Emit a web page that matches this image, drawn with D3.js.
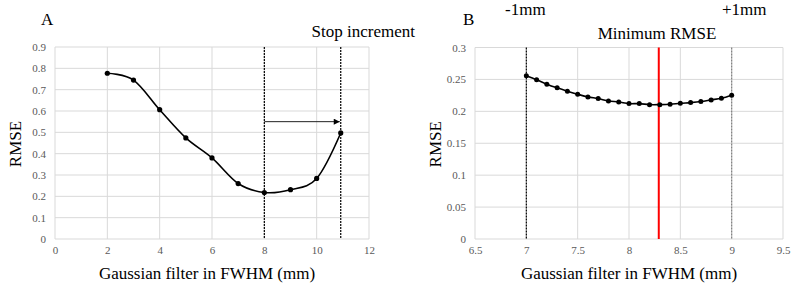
<!DOCTYPE html>
<html>
<head>
<meta charset="utf-8">
<script src="https://cdnjs.cloudflare.com/ajax/libs/d3/7.8.5/d3.min.js"></script>
<style>
  body { margin: 0; background: #fff; }
  text { font-family: "Liberation Serif", "Times New Roman", serif; }
</style>
</head>
<body>
<div id="chart"></div>
<script>
// panel A: coarse search
var aFwhm = [2, 3, 4, 5, 6, 7, 8, 9, 10, 10.92];
var aRmse = [0.777, 0.745, 0.606, 0.474, 0.38, 0.26, 0.218, 0.231, 0.284, 0.497];
var aXTicks = [0, 2, 4, 6, 8, 10, 12];
var aYTicks = [0, 0.1, 0.2, 0.3, 0.4, 0.5, 0.6, 0.7, 0.8, 0.9];
var aDashed = [8, 10.92];
var aArrow = {from: 8, to: 10.92, y: 0.55};

// panel B: fine search around the minimum
var bFwhm = [7.0, 7.1, 7.2, 7.3, 7.4, 7.5, 7.6, 7.7, 7.8, 7.9, 8.0,
             8.1, 8.2, 8.3, 8.4, 8.5, 8.6, 8.7, 8.8, 8.9, 9.0];
var bRmse = [0.2558, 0.2495, 0.2426, 0.2368, 0.2316, 0.2268, 0.2226, 0.2200, 0.2163, 0.2147, 0.2121,
             0.2121, 0.2105, 0.2105, 0.2110, 0.2126, 0.2137, 0.2153, 0.2179, 0.2205, 0.2253];
var bXTicks = [6.5, 7, 7.5, 8, 8.5, 9, 9.5];
var bYTicks = [0, 0.05, 0.1, 0.15, 0.2, 0.25, 0.3];
var bMinimum = 8.29;
var bBounds = [7, 9];

var svg = d3.select("#chart").append("svg")
    .attr("width", 799)
    .attr("height", 288);

svg.append("defs").append("marker")
    .attr("id", "arrowhead")
    .attr("viewBox", "0 0 10 10")
    .attr("refX", 10).attr("refY", 5)
    .attr("markerWidth", 7).attr("markerHeight", 6)
    .attr("markerUnits", "userSpaceOnUse")
    .attr("orient", "auto")
    .append("path")
    .attr("d", "M0,0L10,5L0,10Z")
    .attr("fill", "#000");

function drawPanel(opt) {
    var x = d3.scaleLinear().domain(opt.xDomain).range([opt.left, opt.right]);
    var y = d3.scaleLinear().domain(opt.yDomain).range([opt.bottom, opt.top]);
    var g = svg.append("g");

    // gridlines
    g.selectAll(".hgrid").data(opt.yTicks).enter().append("line")
        .attr("x1", opt.left).attr("x2", opt.right)
        .attr("y1", d => y(d)).attr("y2", d => y(d))
        .attr("stroke", "#d9d9d9").attr("stroke-width", 1);
    g.selectAll(".vgrid").data(opt.xTicks).enter().append("line")
        .attr("x1", d => x(d)).attr("x2", d => x(d))
        .attr("y1", opt.top).attr("y2", opt.bottom)
        .attr("stroke", "#d9d9d9").attr("stroke-width", 1);

    // tick labels via axes, no lines
    var xAxis = d3.axisBottom(x).tickValues(opt.xTicks).tickSize(0).tickPadding(0).tickFormat(d => String(d));
    var yAxis = d3.axisLeft(y).tickValues(opt.yTicks).tickSize(0).tickPadding(0).tickFormat(d => String(d));
    var gx = g.append("g").attr("transform", "translate(0," + (opt.bottom + 7) + ")").call(xAxis);
    var gy = g.append("g").attr("transform", "translate(" + (opt.left - 9) + ",0)").call(yAxis);
    [gx, gy].forEach(function(a) {
        a.select(".domain").remove();
        a.selectAll("text")
            .attr("fill", "#595959")
            .style("font-family", "'Liberation Serif', serif")
            .style("font-size", "11px");
    });
    gx.selectAll("text").attr("dy", "0.71em");

    // axis titles
    g.append("text")
        .attr("x", (opt.left + opt.right) / 2 + opt.titleShift)
        .attr("y", 279)
        .attr("text-anchor", "middle")
        .attr("font-size", 17)
        .text("Gaussian filter in FWHM (mm)");
    g.append("text")
        .attr("transform", "translate(" + (opt.left - 34) + "," + ((opt.top + opt.bottom) / 2 + 1) + ") rotate(-90)")
        .attr("text-anchor", "middle")
        .attr("font-size", 17)
        .text("RMSE");

    return {g: g, x: x, y: y};
}

// ---- A ----
var A = drawPanel({
    xDomain: [0, 12], yDomain: [0, 0.9],
    left: 55, right: 369, top: 47, bottom: 239,
    xTicks: aXTicks, yTicks: aYTicks, titleShift: -5
});

A.g.selectAll(".dash").data(aDashed).enter().append("line")
    .attr("x1", d => A.x(d)).attr("x2", d => A.x(d))
    .attr("y1", A.y(0.9)).attr("y2", A.y(0))
    .attr("stroke", "#000").attr("stroke-width", 1.2)
    .attr("stroke-dasharray", "2,1");

A.g.append("line")
    .attr("x1", A.x(aArrow.from)).attr("x2", A.x(aArrow.to) - 1)
    .attr("y1", A.y(aArrow.y)).attr("y2", A.y(aArrow.y))
    .attr("stroke", "#222").attr("stroke-width", 1)
    .attr("marker-end", "url(#arrowhead)");

var aPts = aFwhm.map((v, i) => [v, aRmse[i]]);
A.g.append("path")
    .datum(aPts)
    .attr("fill", "none").attr("stroke", "#000").attr("stroke-width", 1.6)
    .attr("d", d3.line().x(d => A.x(d[0])).y(d => A.y(d[1])).curve(d3.curveCardinal.tension(0)));
A.g.selectAll(".dot").data(aPts).enter().append("circle")
    .attr("cx", d => A.x(d[0])).attr("cy", d => A.y(d[1]))
    .attr("r", 2.6).attr("fill", "#000");

A.g.append("text").attr("x", 41).attr("y", 25).attr("font-size", 17).text("A");
A.g.append("text").attr("x", 415).attr("y", 37).attr("font-size", 17)
    .attr("text-anchor", "end").text("Stop increment");

// ---- B ----
var B = drawPanel({
    xDomain: [6.5, 9.5], yDomain: [0, 0.3],
    left: 475, right: 783, top: 47.5, bottom: 239,
    xTicks: bXTicks, yTicks: bYTicks, titleShift: 0
});

B.g.selectAll(".dash").data(bBounds).enter().append("line")
    .attr("x1", d => B.x(d)).attr("x2", d => B.x(d))
    .attr("y1", B.y(0.3)).attr("y2", B.y(0))
    .attr("stroke", (d, i) => i === 0 ? "#000" : "#7f7f7f").attr("stroke-width", 1.2)
    .attr("stroke-dasharray", "2,1");

B.g.append("line")
    .attr("x1", B.x(bMinimum)).attr("x2", B.x(bMinimum))
    .attr("y1", B.y(0.3)).attr("y2", B.y(0))
    .attr("stroke", "#ff0000").attr("stroke-width", 2);

var bPts = bFwhm.map((v, i) => [v, bRmse[i]]);
B.g.append("path")
    .datum(bPts)
    .attr("fill", "none").attr("stroke", "#000").attr("stroke-width", 1.6)
    .attr("d", d3.line().x(d => B.x(d[0])).y(d => B.y(d[1])).curve(d3.curveCardinal.tension(0)));
B.g.selectAll(".dot").data(bPts).enter().append("circle")
    .attr("cx", d => B.x(d[0])).attr("cy", d => B.y(d[1]))
    .attr("r", 2.5).attr("fill", "#000");

B.g.append("text").attr("x", 463).attr("y", 25).attr("font-size", 17).text("B");
B.g.append("text").attr("x", 505).attr("y", 15).attr("font-size", 17).text("-1mm");
B.g.append("text").attr("x", 722).attr("y", 15).attr("font-size", 17).text("+1mm");
B.g.append("text").attr("x", 657).attr("y", 39).attr("font-size", 17)
    .attr("text-anchor", "middle").text("Minimum RMSE");
</script>
</body>
</html>
